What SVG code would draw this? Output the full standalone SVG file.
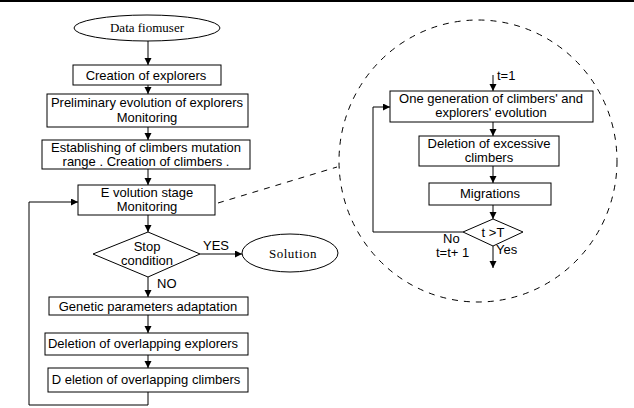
<svg xmlns="http://www.w3.org/2000/svg" width="634" height="408" viewBox="0 0 634 408">
<style>
.bx{fill:#fff;stroke:#000;stroke-width:1}
.ln{fill:none;stroke:#000;stroke-width:1}
.ds{fill:none;stroke:#000;stroke-width:1;stroke-dasharray:6 6}
.t{font-family:"Liberation Sans",Arial,sans-serif;font-size:13px;fill:#000;text-anchor:middle}
.s{font-family:"Liberation Serif","Times New Roman",serif;font-size:13px;fill:#000;text-anchor:middle}
.l{text-anchor:start}
</style>
<defs>
<marker id="ah" markerWidth="8" markerHeight="8" refX="7" refY="3.5" orient="auto" markerUnits="userSpaceOnUse">
<path d="M0,0 L7,3.5 L0,7 Z" fill="#000"/>
</marker>
</defs>
<rect x="0" y="0" width="634" height="408" fill="#fff"/>
<line x1="0" y1="1" x2="634" y2="1" stroke="#000" stroke-width="2"/>

<g id="connectors">
<line class="ln" x1="148" y1="41" x2="148" y2="65" marker-end="url(#ah)"/>
<line class="ln" x1="148" y1="85" x2="148" y2="94" marker-end="url(#ah)"/>
<line class="ln" x1="148" y1="127" x2="148" y2="140" marker-end="url(#ah)"/>
<line class="ln" x1="148" y1="169" x2="148" y2="185" marker-end="url(#ah)"/>
<line class="ln" x1="148" y1="215" x2="148" y2="232" marker-end="url(#ah)"/>
<line class="ln" x1="200" y1="254" x2="242" y2="254" marker-end="url(#ah)"/>
<line class="ln" x1="148" y1="277" x2="148" y2="297" marker-end="url(#ah)"/>
<line class="ln" x1="148" y1="315" x2="148" y2="333" marker-end="url(#ah)"/>
<line class="ln" x1="148" y1="355" x2="148" y2="368" marker-end="url(#ah)"/>
<polyline class="ln" points="148,392 148,405 29,405 29,202 78,202" marker-end="url(#ah)"/>
<line class="ds" x1="218" y1="203" x2="337" y2="167"/>
<line class="ln" x1="493" y1="75" x2="493" y2="91" marker-end="url(#ah)"/>
<line class="ln" x1="493" y1="122" x2="493" y2="136" marker-end="url(#ah)"/>
<line class="ln" x1="493" y1="166" x2="493" y2="183" marker-end="url(#ah)"/>
<line class="ln" x1="493" y1="205" x2="493" y2="219" marker-end="url(#ah)"/>
<line class="ln" x1="493" y1="246" x2="493" y2="268" marker-end="url(#ah)"/>
<polyline class="ln" points="463,232 373,232 373,107 390,107" marker-end="url(#ah)"/>
</g>

<g id="zoom-circle">
<ellipse class="ds" cx="478" cy="161" rx="139" ry="141"/>
</g>

<g id="data-from-user">
<ellipse class="bx" cx="147" cy="28" rx="73" ry="13"/>
<text class="s" x="147" y="32">Data fiomuser</text>
</g>
<g id="creation-explorers">
<rect class="bx" x="73" y="65" width="148" height="20"/>
<text class="t" x="146" y="80">Creation of explorers</text>
</g>
<g id="preliminary">
<rect class="bx" x="47" y="94" width="201" height="33"/>
<text class="t" x="147" y="107">Preliminary evolution of explorers</text>
<text class="t" x="147" y="122">Monitoring</text>
</g>
<g id="establishing">
<rect class="bx" x="42" y="140" width="208" height="29"/>
<text class="t" x="146" y="151.5">Establishing of climbers mutation</text>
<text class="t" x="146" y="165.5">range . Creation of climbers .</text>
</g>
<g id="evolution-stage">
<rect class="bx" x="78" y="185" width="137" height="30"/>
<text class="t" x="147" y="197">E volution stage</text>
<text class="t" x="147" y="211">Monitoring</text>
</g>
<g id="stop-condition">
<polygon class="bx" points="148,232 200,254 148,277 93,254"/>
<text class="t" x="147" y="251">Stop</text>
<text class="t" x="147" y="265">condition</text>
</g>
<g id="solution">
<ellipse class="bx" cx="290" cy="253" rx="48" ry="19"/>
<text class="s" x="293" y="258" letter-spacing="0.5">Solution</text>
</g>
<g id="labels-left">
<text class="t l" x="203" y="250">YES</text>
<text class="t l" x="157" y="288">NO</text>
</g>
<g id="genetic">
<rect class="bx" x="49" y="297" width="199" height="18"/>
<text class="t" x="148" y="311">Genetic parameters adaptation</text>
</g>
<g id="deletion-explorers">
<rect class="bx" x="45" y="333" width="203" height="22"/>
<text class="t" x="143" y="348">Deletion of overlapping explorers</text>
</g>
<g id="deletion-climbers">
<rect class="bx" x="48" y="368" width="200" height="24"/>
<text class="t" x="146" y="384">D eletion of overlapping climbers</text>
</g>

<g id="one-generation">
<rect class="bx" x="390" y="91" width="203" height="31"/>
<text class="t" x="491" y="103">One generation of climbers' and</text>
<text class="t" x="491" y="117">explorers' evolution</text>
</g>
<g id="deletion-excessive">
<rect class="bx" x="419" y="136" width="140" height="30"/>
<text class="t" x="489" y="148">Deletion of excessive</text>
<text class="t" x="489" y="162">climbers</text>
</g>
<g id="migrations">
<rect class="bx" x="429" y="183" width="122" height="22"/>
<text class="t" x="490" y="198">Migrations</text>
</g>
<g id="t-gt-T">
<polygon class="bx" points="493,219 523,232 493,246 463,232"/>
<text class="t" x="493" y="237">t &gt;T</text>
</g>
<g id="labels-inner">
<text class="t l" x="497" y="80">t=1</text>
<text class="t l" x="443" y="243">No</text>
<text class="t l" x="436" y="257">t=t+ 1</text>
<text class="t l" x="496" y="254">Yes</text>
</g>
</svg>
